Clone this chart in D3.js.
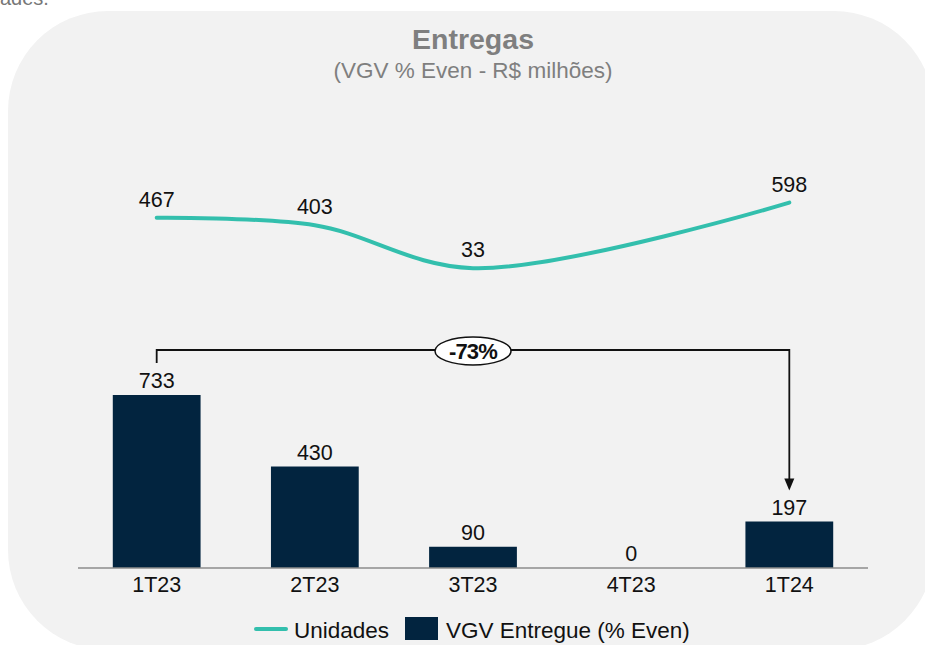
<!DOCTYPE html>
<html><head><meta charset="utf-8">
<script src="https://cdn.jsdelivr.net/npm/d3@7"></script>
<style>body{margin:0;background:#fff}svg{display:block;font-family:Arial,"Liberation Sans",sans-serif}</style>
</head><body><svg id="c" width="925" height="645"></svg>
<script>
const categories = ["1T23","2T23","3T23","4T23","1T24"];
const vgvEntregue = [733, 430, 90, 0, 197];
const unidades = [467, 403, 33, null, 598];
const legendLabels = ["Unidades", "VGV Entregue (% Even)"];
const titleText = "Entregas";
const subtitleText = "(VGV % Even - R$ milhões)";
const changeLabel = "-73%";

const svg = d3.select("#c");
const teal = "#33bfad", navy = "#02243f";
const fs = 21.5;

svg.append("text").attr("x",0).attr("y",5).attr("fill","#777").attr("font-size",20).text("ades.");
svg.append("rect").attr("x",8).attr("y",11).attr("width",926).attr("height",639).attr("rx",100).attr("fill","#f2f2f2");

svg.append("text").attr("x",473).attr("y",49).attr("text-anchor","middle").attr("fill","#7f7f7f")
  .attr("font-size",28.5).attr("font-weight","bold").text(titleText);
svg.append("text").attr("x",473).attr("y",78).attr("text-anchor","middle").attr("fill","#7f7f7f")
  .attr("font-size",22.5).text(subtitleText);

const x = d3.scaleBand().domain(categories).range([78, 868]).paddingInner(0.445).paddingOuter(0.22);
const yBar = d3.scaleLinear().domain([0, 733]).range([568, 395]);
const yLine = d3.scaleLinear().domain([0, 600]).range([272, 202.4]);
const cx = c => x(c) + x.bandwidth()/2;

// bars
svg.selectAll("rect.bar").data(categories).join("rect").attr("class","bar")
  .attr("x", c => x(c)).attr("width", x.bandwidth())
  .attr("y", (c,i) => yBar(vgvEntregue[i])).attr("height", (c,i) => 568 - yBar(vgvEntregue[i]))
  .attr("fill", navy);
svg.selectAll("text.bl").data(categories).join("text").attr("class","bl")
  .attr("x", cx).attr("y", (c,i) => yBar(vgvEntregue[i]) - 7)
  .attr("text-anchor","middle").attr("font-size",fs).attr("fill","#111")
  .text((c,i) => vgvEntregue[i]);

// axis
const ax = svg.append("g").attr("transform","translate(0,568)").call(d3.axisBottom(x).tickSize(0).tickPadding(9));
ax.select(".domain").attr("stroke","#8c8c8c").attr("stroke-width",1.5).attr("d","M78,0H868");
ax.selectAll("text").attr("font-size",fs).attr("fill","#111").attr("font-family","Arial, 'Liberation Sans', sans-serif");

// line
const pts = categories.map((c,i) => ({c, v: unidades[i]})).filter(d => d.v != null);
const line = d3.line().x(d => cx(d.c)).y(d => yLine(d.v)).curve(d3.curveCatmullRom.alpha(0.5));
svg.append("path").datum(pts).attr("d", line).attr("fill","none").attr("stroke",teal)
  .attr("stroke-width",4).attr("stroke-linecap","round");
svg.selectAll("text.ll").data(pts).join("text").attr("class","ll")
  .attr("x", d => cx(d.c)).attr("y", d => yLine(d.v) - 11)
  .attr("text-anchor","middle").attr("font-size",fs).attr("fill","#111").text(d => d.v);

// annotation
const x0 = cx(categories[0]), x1 = cx(categories[4]);
const yA = 350;
svg.append("path").attr("d", `M${x0},${yBar(vgvEntregue[0]) - 32}V${yA}H${x1}V${yBar(vgvEntregue[4]) - 40}`)
  .attr("fill","none").attr("stroke","#111").attr("stroke-width",1.8);
const tipY = yBar(vgvEntregue[4]) - 31;
svg.append("path").attr("d", `M${x1-5},${tipY-12}L${x1+5},${tipY-12}L${x1},${tipY}Z`).attr("fill","#111");
const mx = (x0 + x1)/2;
svg.append("ellipse").attr("cx",mx).attr("cy",yA+1).attr("rx",38).attr("ry",14)
  .attr("fill","#fff").attr("stroke","#111").attr("stroke-width",1.5);
svg.append("text").attr("x",mx).attr("y",yA+9).attr("text-anchor","middle").attr("font-size",22)
  .attr("font-weight","bold").attr("letter-spacing","-0.8").attr("fill","#111").text(changeLabel);

// legend
const lfs = 22.5;
const lg = svg.append("g");
lg.append("line").attr("x1",256).attr("x2",286).attr("y1",629).attr("y2",629).attr("stroke",teal).attr("stroke-width",4).attr("stroke-linecap","round");
lg.append("text").attr("x",294).attr("y",638).attr("font-size",lfs).attr("fill","#111").text(legendLabels[0]);
lg.append("rect").attr("x",405).attr("y",617).attr("width",33).attr("height",23).attr("fill",navy);
lg.append("text").attr("x",446).attr("y",638).attr("font-size",lfs).attr("fill","#111").text(legendLabels[1]);
</script></body></html>
